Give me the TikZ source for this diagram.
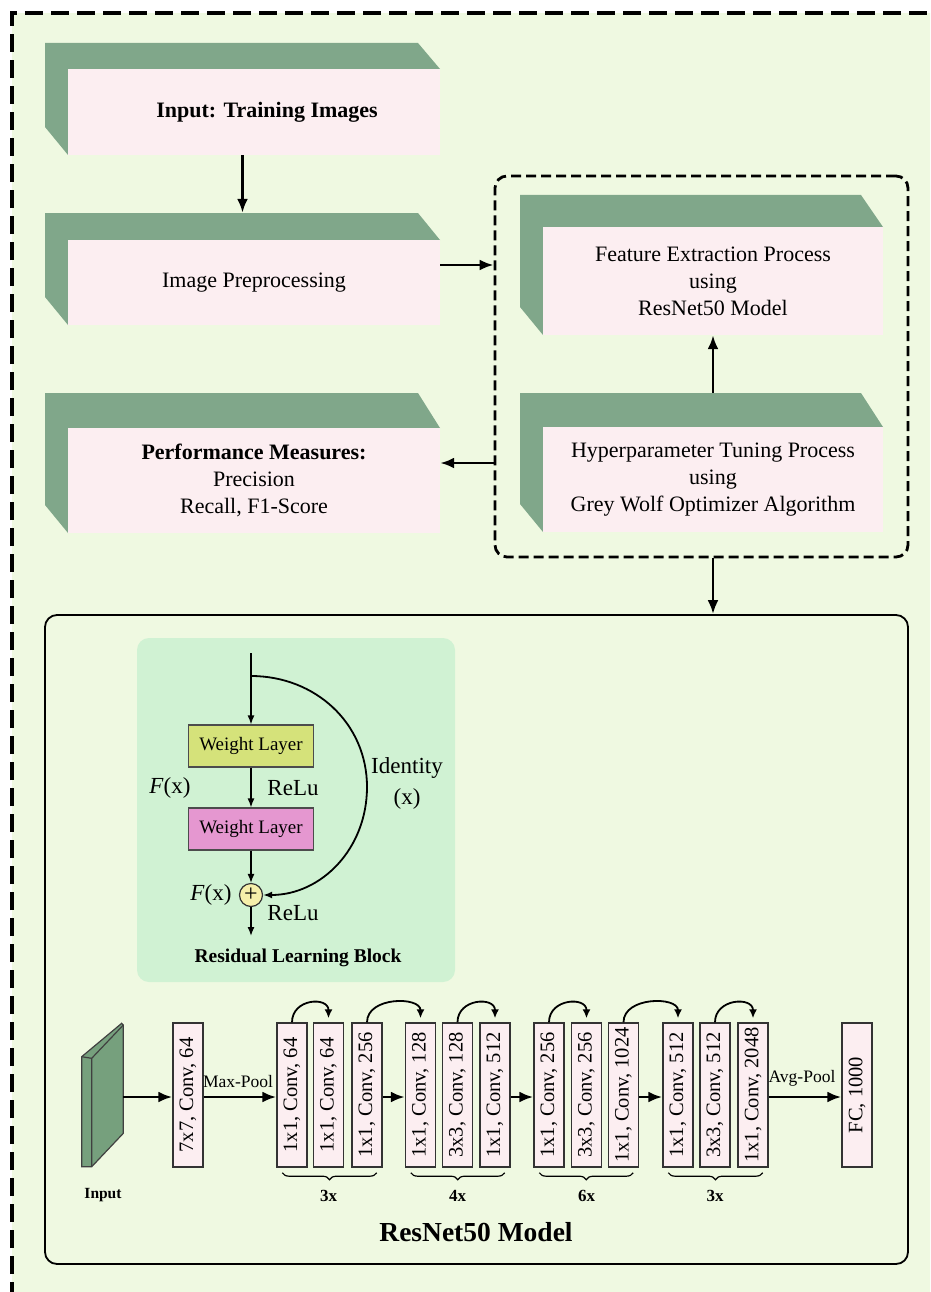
\documentclass[tikz,border=0pt]{standalone}
\usepackage{fontspec}
\setmainfont{Liberation Serif}
\usetikzlibrary{arrows.meta,decorations.pathreplacing,calc,fit}
\definecolor{bg}{HTML}{EFF9E1}
\definecolor{gbox}{HTML}{80A78A}
\definecolor{pbox}{HTML}{FCEEF1}
\definecolor{rpanelc}{HTML}{D0F2D3}
\definecolor{wone}{HTML}{D5E27A}
\definecolor{wtwo}{HTML}{E597D0}
\definecolor{plusc}{HTML}{F6EFAA}
\definecolor{slabc}{HTML}{76A07D}
\newcommand{\tdbox}[7]{%
  % #1 name, #2 xl, #3 xr, #4 ytop, #5 yface, #6 ybottom, #7 text
  \fill[gbox] (#2,#4) -- ({#3-22},#4) -- (#3,#5) -- ({#2+23},#5) -- ({#2+23},#6) -- (#2,{#6-28}) -- cycle;
  \node[fit={(#2,#4) (#3,#6)}, inner sep=0] (#1) {};
  \node[fit={({#2+23},#5) (#3,#6)}, inner sep=0, fill=pbox] (#1f) {};
  \node[boxtext] (#1t) at (#1f.center) {#7};
}
\newcommand{\lyr}[3]{\node[layer] (#1) at (#2,1095) {\rotatebox{90}{#3}};}
\begin{document}
\begin{tikzpicture}[x=1pt,y=-1pt,
  boxtext/.style={align=center, font=\fontsize{22}{27}\selectfont},
  arr/.style={line width=2.8, -{Latex[length=14pt,width=11pt]}},
  sarr/.style={line width=1.4, -{Latex[length=9pt,width=7pt]}},
  skiparr/.style={line width=1.8, -{Latex[length=9pt,width=8pt]}},
  layer/.style={draw=black!80, fill=pbox, line width=1.4, minimum width=30, minimum height=144, inner sep=0, font=\fontsize{20.5}{22}\selectfont},
  wl/.style={draw=black!70, line width=1.2, minimum width=125, minimum height=42, inner sep=0, font=\fontsize{19}{20}\selectfont},
  lbl/.style={font=\fontsize{23}{31}\selectfont, align=center, inner sep=1},
  pool/.style={font=\fontsize{17.5}{20}\selectfont, inner sep=1},
  rep/.style={font=\bfseries\fontsize{17}{18}\selectfont, inner sep=1},
  brc/.style={decorate, decoration={brace, amplitude=7pt, mirror}, line width=1.2}
]
\useasboundingbox (0,0) rectangle (930,1292);
\clip (0,0) rectangle (930,1292);
\fill[white] (0,0) rectangle (930,1292);
\fill[bg] (12,13) rectangle (940,1300);
\draw[line width=4, dash pattern=on 18 off 8] (12,1300) -- (12,13) -- (945,13);

% top flow boxes
\tdbox{inbox}{45}{440}{43}{69}{155}{\hspace*{26pt}\textbf{Input: Training Images}}
\tdbox{prep}{45}{440}{213}{240}{325}{Image Preprocessing}
\tdbox{perf}{45}{440}{393}{428}{533}{\textbf{Performance Measures:}\\Precision\\Recall, F1-Score}
\node[fit={(495,176) (908,557)}, inner sep=0, draw, line width=2.8, dash pattern=on 10 off 5, rounded corners=12] (dbox) {};
\tdbox{feat}{520}{883}{195}{227}{335}{Feature Extraction Process\\using\\ResNet50 Model}
\tdbox{hyp}{520}{883}{393}{427}{532}{Hyperparameter Tuning Process\\using\\Grey Wolf Optimizer Algorithm}

\draw[arr] (inbox.south) -- (prep.north);
\draw[arr] ([yshift=4pt]prep.east) -- ([yshift=4pt]prep.east -| dbox.west);
\draw[arr] (perf.east -| dbox.west) -- (perf.east);
\draw[arr] (hypf.center |- hyp.north) -- (featf.south);

% ResNet box
\node[fit={(45,615) (908,1264)}, inner sep=0, draw, line width=1.8, rounded corners=12] (resnet) {};
\draw[arr] (dbox.south -| featf.south) -- (resnet.north -| featf.south);
\node[font=\bfseries\fontsize{27.5}{30}\selectfont] (rtitle) at (476,1232) {ResNet50 Model};

% residual block
\node[fit={(137,638) (455,982)}, inner sep=0, fill=rpanelc, rounded corners=12] (rpanel) {};
\coordinate (rin) at (251,653);
\coordinate (br) at (251,676);
\node[wl, fill=wone] (w1) at (251,746) {Weight Layer};
\node[wl, fill=wtwo] (w2) at (251,829) {Weight Layer};
\node[circle, draw=black!80, fill=plusc, minimum size=23, inner sep=0, line width=1.2, font=\fontsize{24}{24}\selectfont] (plus) at (251,895) {+};
\coordinate (rout) at (251,936);
\coordinate (idr) at (367,787);
\draw[sarr] (rin) -- (w1);
\draw[sarr] (w1) -- (w2);
\draw[sarr] (w2) -- (plus);
\draw[sarr] (plus) -- (rout);
\draw[sarr, line width=1.8] (br) .. controls +(64,0) and +(0,-64) .. (idr) .. controls +(0,62) and +(58,0) .. (plus.east);
\node[lbl] (fx1) at (170,788) {\textit{F}(x)};
\node[lbl] (relu1) at (293,788) {ReLu};
\node[lbl] (ident) at (407,783) {Identity\\(x)};
\node[lbl] (fx2) at (211,895) {\textit{F}(x)};
\node[lbl] (relu2) at (293,913) {ReLu};
\node[font=\bfseries\fontsize{19.5}{22}\selectfont] (rlb) at (298,958) {Residual Learning Block};

% input slab
\fill[slabc, draw=black!75, line width=1.2] (81.7,1056.7) -- (121.7,1023.3) -- (123.3,1025) -- (123.3,1133.3) -- (91.7,1166.7) -- (81.7,1166.7) -- cycle;
\draw[black!75, line width=1.2] (81.7,1056.7) -- (91.7,1058.3) -- (123.3,1025) (91.7,1058.3) -- (91.7,1166.7);
\coordinate (slab) at (123.3,1097);
\node[font=\bfseries\fontsize{15.5}{17}\selectfont] (inlbl) at (103,1195) {Input};

% layers
\lyr{c7}{188}{7x7, Conv, 64}
\lyr{ga}{292}{1x1, Conv, 64}
\lyr{gb}{328.5}{1x1, Conv, 64}
\lyr{gc}{367}{1x1, Conv, 256}
\lyr{ha}{420.5}{1x1, Conv, 128}
\lyr{hb}{457.5}{3x3, Conv, 128}
\lyr{hc}{495}{1x1, Conv, 512}
\lyr{ia}{549}{1x1, Conv, 256}
\lyr{ib}{586.5}{3x3, Conv, 256}
\lyr{ic}{623.5}{1x1, Conv, 1024}
\lyr{ja}{678}{1x1, Conv, 512}
\lyr{jb}{715}{3x3, Conv, 512}
\lyr{jc}{753}{1x1, Conv, 2048}
\lyr{fc}{857}{FC, 1000}

\draw[arr] (slab) -- (c7.west |- slab);
\draw[arr] (c7.east |- slab) -- (ga.west |- slab);
\draw[arr] (gc.east |- slab) -- (ha.west |- slab);
\draw[arr] (hc.east |- slab) -- (ia.west |- slab);
\draw[arr] (ic.east |- slab) -- (ja.west |- slab);
\draw[arr] (jc.east |- slab) -- (fc.west |- slab);
\node[pool] (mp) at (238,1082) {Max-Pool};
\node[pool] (ap) at (802,1078) {Avg-Pool};

% skip arcs
\draw[skiparr] (ga.north) .. controls +(0,-24) and +(0,-22) .. ([yshift=4pt]gb.north);
\draw[skiparr] (gc.north) .. controls +(0,-26) and +(0,-22) .. ([yshift=4pt]ha.north);
\draw[skiparr] (hb.north) .. controls +(0,-24) and +(0,-22) .. ([yshift=4pt]hc.north);
\draw[skiparr] (ia.north) .. controls +(0,-24) and +(0,-22) .. ([yshift=4pt]ib.north);
\draw[skiparr] (ic.north) .. controls +(0,-26) and +(0,-22) .. ([yshift=4pt]ja.north);
\draw[skiparr] (jb.north) .. controls +(0,-24) and +(0,-22) .. ([yshift=4pt]jc.north);

% braces
\draw[brc] ([xshift=6pt,yshift=-5pt]ga.south west) -- ([xshift=-6pt,yshift=-5pt]gc.south east);
\draw[brc] ([xshift=6pt,yshift=-5pt]ha.south west) -- ([xshift=-6pt,yshift=-5pt]hc.south east);
\draw[brc] ([xshift=6pt,yshift=-5pt]ia.south west) -- ([xshift=-6pt,yshift=-5pt]ic.south east);
\draw[brc] ([xshift=6pt,yshift=-5pt]ja.south west) -- ([xshift=-6pt,yshift=-5pt]jc.south east);
\node[rep] (r1) at ($(gb.south)+(0,28)$) {3x};
\node[rep] (r2) at ($(hb.south)+(0,28)$) {4x};
\node[rep] (r3) at ($(ib.south)+(0,28)$) {6x};
\node[rep] (r4) at ($(jb.south)+(0,28)$) {3x};
\end{tikzpicture}
\end{document}
